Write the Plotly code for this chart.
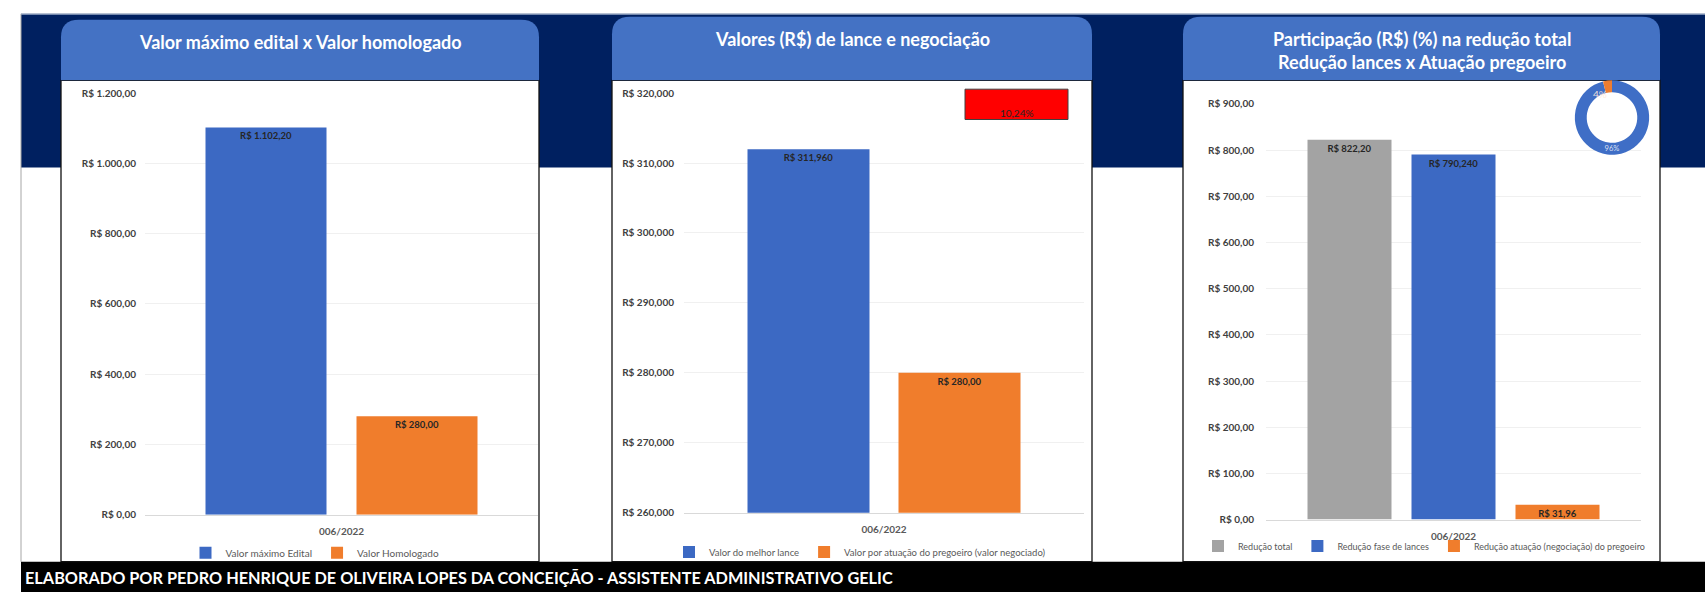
import plotly.graph_objects as go

# tamanho da página (px)
W, H = 1705, 598

categoria = ["006/2022"]

p1_series = ["Valor máximo Edital", "Valor Homologado"]
p1_valores = [1102.20, 280.00]
p1_rotulos = ["R$ 1.102,20", "R$ 280,00"]
p1_ticks = [0, 200, 400, 600, 800, 1000, 1200]
p1_ticktext = ["R$ 0,00", "R$ 200,00", "R$ 400,00", "R$ 600,00",
               "R$ 800,00", "R$ 1.000,00", "R$ 1.200,00"]

p2_series = ["Valor do melhor lance", "Valor por atuação do pregoeiro (valor negociado)"]
p2_valores = [311.96, 280.00]
p2_rotulos = ["R$ 311,960", "R$ 280,00"]
p2_ticks = [260, 270, 280, 290, 300, 310, 320]
p2_ticktext = ["R$ 260,000", "R$ 270,000", "R$ 280,000", "R$ 290,000",
               "R$ 300,000", "R$ 310,000", "R$ 320,000"]
p2_percentual = "10,24%"

p3_series = ["Redução total", "Redução fase de lances",
             "Redução atuação (negociação) do pregoeiro"]
p3_valores = [822.20, 790.24, 31.96]
p3_rotulos = ["R$ 822,20", "R$ 790,240", "R$ 31,96"]
p3_ticks = [0, 100, 200, 300, 400, 500, 600, 700, 800, 900]
p3_ticktext = ["R$ 0,00", "R$ 100,00", "R$ 200,00", "R$ 300,00", "R$ 400,00",
               "R$ 500,00", "R$ 600,00", "R$ 700,00", "R$ 800,00", "R$ 900,00"]

rosca_labels = ["Redução fase de lances", "Redução atuação do pregoeiro"]
rosca_valores = [790.24, 31.96]

titulos = ["Valor máximo edital x Valor homologado",
           "Valores (R$) de lance e negociação",
           "Participação (R$) (%) na redução total<br>Redução lances x Atuação pregoeiro"]
rodape = "ELABORADO POR PEDRO HENRIQUE DE OLIVEIRA LOPES DA CONCEIÇÃO - ASSISTENTE ADMINISTRATIVO GELIC"

# ---- estilo ----
AZUL = "#3C69C3"
LARANJA = "#F07D2C"
CINZA = "#A3A3A3"
NAVY = "#002060"
CABECALHO = "#4472C4"
FONTE = "Lato, 'Open Sans', sans-serif"


def px(x):
    return x / W


def py(y):
    return 1 - y / H


fig = go.Figure()

# painéis: caixa (x0, x1, topo do cabeçalho), área do gráfico (x0, x1, y base, y topo)
paineis = [
    dict(x0=61, x1=539, top=13, area=(145, 538, 519, 88), legenda=(315, 558), leg_fonte=10, titulo_y=36),
    dict(x0=612, x1=1092, top=10, area=(684, 1084, 517, 88), legenda=(860, 557), leg_fonte=9.5, titulo_y=33),
    dict(x0=1183, x1=1660, top=10, area=(1266, 1641, 524, 99), legenda=(1424, 551), leg_fonte=9, titulo_y=44),
]

dados = [
    (p1_series, p1_valores, p1_rotulos, [AZUL, LARANJA], 121, 30),
    (p2_series, p2_valores, p2_rotulos, [AZUL, LARANJA], 122, 29),
    (p3_series, p3_valores, p3_rotulos, [CINZA, AZUL, LARANJA], 84, 20),
]

for i, (series, valores, rotulos, cores, larg_px, gap_px) in enumerate(dados):
    n = i + 1
    ax = "" if n == 1 else str(n)
    area = paineis[i]["area"]
    larg_area = area[1] - area[0]
    bw = larg_px / larg_area
    bg = gap_px / larg_area
    total = len(series) * bw + (len(series) - 1) * bg
    for j, nome in enumerate(series):
        fig.add_trace(go.Bar(
            x=categoria, y=[valores[j]], name=nome,
            text=[rotulos[j]], textposition="inside", insidetextanchor="end",
            textangle=0, constraintext="none",
            textfont=dict(family=FONTE, size=9.5, color="#262626", weight="bold"),
            marker=dict(color=cores[j], line=dict(width=0)),
            width=bw, offset=-total / 2 + j * (bw + bg),
            xaxis="x" + ax, yaxis="y" + ax,
            legend="legend" + ax,
            hovertemplate="%{text}<extra>" + nome + "</extra>",
        ))

# rosca de participação (rótulo da fatia pequena vai em anotação)
pct = [v / sum(rosca_valores) for v in rosca_valores]
fig.add_trace(go.Pie(
    labels=rosca_labels, values=rosca_valores, hole=0.68, sort=False,
    direction="clockwise", rotation=0,
    marker=dict(colors=["#3F6EC6", "#ED7D31"], line=dict(width=0)),
    text=[f"{pct[0]:.0%}", ""], texttemplate="%{text}", textposition="inside",
    insidetextorientation="horizontal",
    textfont=dict(family=FONTE, size=10, color="rgba(255,255,255,0.8)"),
    domain=dict(x=[px(1574), px(1650)], y=[py(151), py(75)]),
    showlegend=False,
))

ranges = [[0, 1200], [260, 320], [0, 900]]
tickvals = [p1_ticks, p2_ticks, p3_ticks]
ticktexts = [p1_ticktext, p2_ticktext, p3_ticktext]
standoffs = [8, 9, 11]

shapes = [
    dict(type="rect", xref="paper", yref="paper", x0=px(21), x1=px(1705), y0=py(164), y1=py(7),
         fillcolor=NAVY, line=dict(width=0), layer="below"),
    dict(type="line", xref="paper", yref="paper", x0=px(21), x1=px(1705), y0=py(7.5), y1=py(7.5),
         line=dict(color="#8FA0BE", width=1), layer="below"),
    dict(type="line", xref="paper", yref="paper", x0=px(21), x1=px(21), y0=py(567), y1=py(7),
         line=dict(color="#A6A6A6", width=1), layer="below"),
    dict(type="rect", xref="paper", yref="paper", x0=px(21), x1=px(1705), y0=py(598), y1=py(567),
         fillcolor="#000000", line=dict(width=0), layer="below"),
]
annotations = []
layout_axes = {}
r = 18
for i, p in enumerate(paineis):
    n = i + 1
    ax = "" if n == 1 else str(n)
    x0, x1, top = p["x0"], p["x1"], p["top"]
    # caixa branca
    shapes.append(dict(type="rect", xref="paper", yref="paper",
                       x0=px(x0), x1=px(x1), y0=py(567), y1=py(75),
                       fillcolor="white", line=dict(color="#111111", width=1.3), layer="below"))
    # cabeçalho com cantos arredondados
    path = (f"M {px(x0)},{py(75)} L {px(x0)},{py(top + r)} "
            f"Q {px(x0)},{py(top)} {px(x0 + r)},{py(top)} "
            f"L {px(x1 - r)},{py(top)} Q {px(x1)},{py(top)} {px(x1)},{py(top + r)} "
            f"L {px(x1)},{py(75)} Z")
    shapes.append(dict(type="path", xref="paper", yref="paper", path=path,
                       fillcolor=CABECALHO, line=dict(width=0), layer="below"))
    annotations.append(dict(text=f"<b>{titulos[i]}</b>", xref="paper", yref="paper",
                            x=px((x0 + x1) / 2), y=py(p["titulo_y"]), showarrow=False,
                            xanchor="center", yanchor="middle",
                            font=dict(family=FONTE, size=18, color="white")))
    a = p["area"]
    layout_axes["xaxis" + ax] = dict(
        domain=[px(a[0]), px(a[1])], anchor="y" + ax, type="category", range=[-0.5, 0.5],
        showgrid=False, zeroline=False, showline=True, linecolor="#D9D9D9", linewidth=1,
        ticks="", ticklabelstandoff=7,
        tickfont=dict(family=FONTE, size=10, color="#595959", weight="bold"),
    )
    layout_axes["yaxis" + ax] = dict(
        domain=[py(a[2]), py(a[3])], anchor="x" + ax, range=ranges[i],
        tickmode="array", tickvals=tickvals[i], ticktext=ticktexts[i],
        showgrid=True, gridcolor="#F0F0F0", gridwidth=1, zeroline=False, showline=False,
        ticks="", ticklabelstandoff=standoffs[i],
        tickfont=dict(family=FONTE, size=10, color="#404040", weight="bold"),
    )
    lx, ly = p["legenda"]
    layout_axes["legend" + ax] = dict(
        orientation="h", x=px(lx), y=py(ly), xanchor="center", yanchor="middle",
        bgcolor="rgba(0,0,0,0)", itemwidth=30, tracegroupgap=0,
        font=dict(family=FONTE, size=p["leg_fonte"], color="#595959"),
    )

# caixa vermelha com percentual
shapes.append(dict(type="rect", xref="paper", yref="paper",
                   x0=px(965), x1=px(1068), y0=py(115), y1=py(84),
                   fillcolor="#FF0000", line=dict(color="#404040", width=1), layer="below"))
annotations.append(dict(text=p2_percentual, xref="paper", yref="paper",
                        x=px(1016.5), y=py(100), showarrow=False,
                        font=dict(family=FONTE, size=10, color="#262626")))
# rótulo da fatia de 4% no topo da rosca
annotations.append(dict(text=f"{pct[1]:.0%}", xref="paper", yref="paper",
                        x=px(1609), y=py(81), showarrow=False,
                        font=dict(family=FONTE, size=10, color="rgba(255,235,220,0.9)")))
annotations.append(dict(text=f"<b>{rodape}</b>", xref="paper", yref="paper",
                        x=px(23), y=py(583), xanchor="left", yanchor="middle", showarrow=False,
                        font=dict(family=FONTE, size=16.3, color="white")))

fig.update_layout(
    width=W, height=H,
    margin=dict(l=0, r=0, t=0, b=0),
    paper_bgcolor="white", plot_bgcolor="rgba(0,0,0,0)",
    barmode="overlay",
    shapes=shapes, annotations=annotations,
    font=dict(family=FONTE),
    **layout_axes,
)

# a página padrão tem margem de 8px no body; zera para o gráfico ocupar a janela
fig.write_html("out.html", config={"displayModeBar": False},
               post_script="document.body.style.margin='0';")
